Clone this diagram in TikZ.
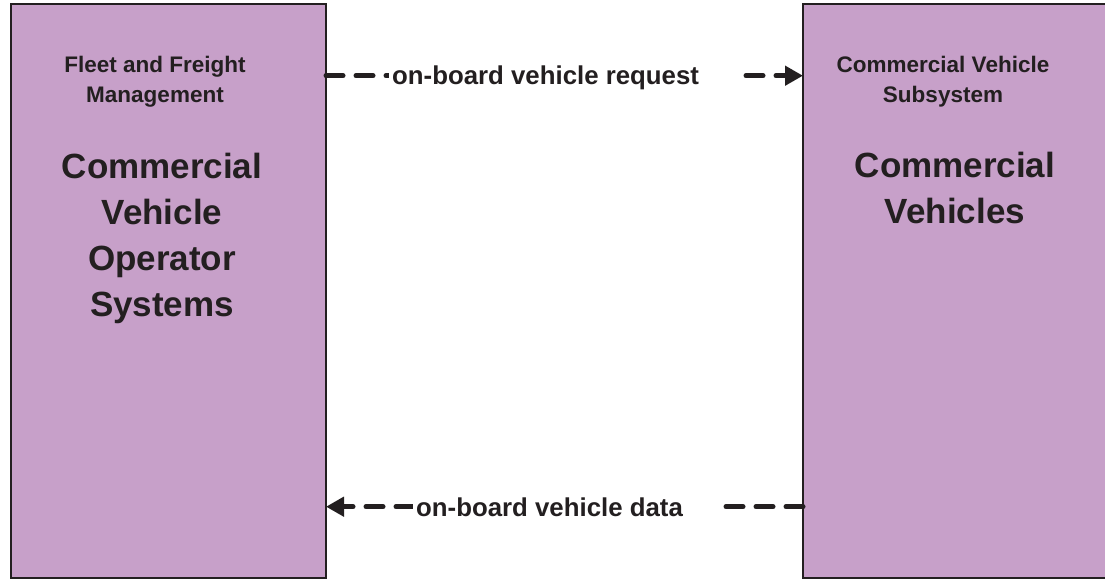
\documentclass[tikz,border=0pt]{standalone}
\usepackage{fontspec}
\setmainfont{Liberation Sans}
\usetikzlibrary{arrows.meta}
\definecolor{boxfill}{RGB}{199,160,201}
\definecolor{ink}{RGB}{35,31,32}
\begin{document}
\begin{tikzpicture}[x=1pt,y=-1pt,
  sysbox/.style={draw=ink,line width=2pt,fill=boxfill,minimum width=315pt,minimum height=574pt,inner sep=0pt,outer sep=0pt},
  headtext/.style={text=ink,font=\fontsize{22.5}{29.5}\selectfont\bfseries,align=center,inner sep=0pt,anchor=north},
  bigtext/.style={text=ink,font=\fontsize{35}{46}\selectfont\bfseries,align=center,inner sep=0pt,anchor=north},
  flow/.style={draw=ink,line width=5pt,line cap=round,dash pattern=on 17pt off 13pt,-{Triangle[length=18pt,width=19pt]}},
  flowlabel/.style={fill=white,text=ink,font=\fontsize{25.8}{30}\selectfont\bfseries,inner xsep=3pt,inner ysep=2pt,anchor=base west}]
\useasboundingbox (0,0) rectangle (1105,580);
\clip (0,0) rectangle (1105,580);
\node[sysbox] (lb) at (168.5,291) {};
\node[sysbox] (rb) at (960.5,291) {};
\node[headtext] (lh) at (155,56) {Fleet and Freight\\Management};
\node[bigtext] (lt) at (162,153) {Commercial\\Vehicle\\Operator\\Systems};
\node[headtext] (rh) at (943,56) {Commercial Vehicle\\Subsystem};
\node[bigtext] (rt) at (955,152) {Commercial\\Vehicles};
\draw[flow] ([yshift=215.3pt]lb.east) -- ([yshift=215.3pt]rb.west);
\draw[flow] ([yshift=-215.7pt]rb.west) -- ([yshift=-215.7pt]lb.east);
\node[flowlabel] (l1) at (389,85) {on-board vehicle request\hspace*{36pt}};
\node[flowlabel] (l2) at (413,516) {on-board vehicle data\hspace*{32pt}};
\end{tikzpicture}
\end{document}
